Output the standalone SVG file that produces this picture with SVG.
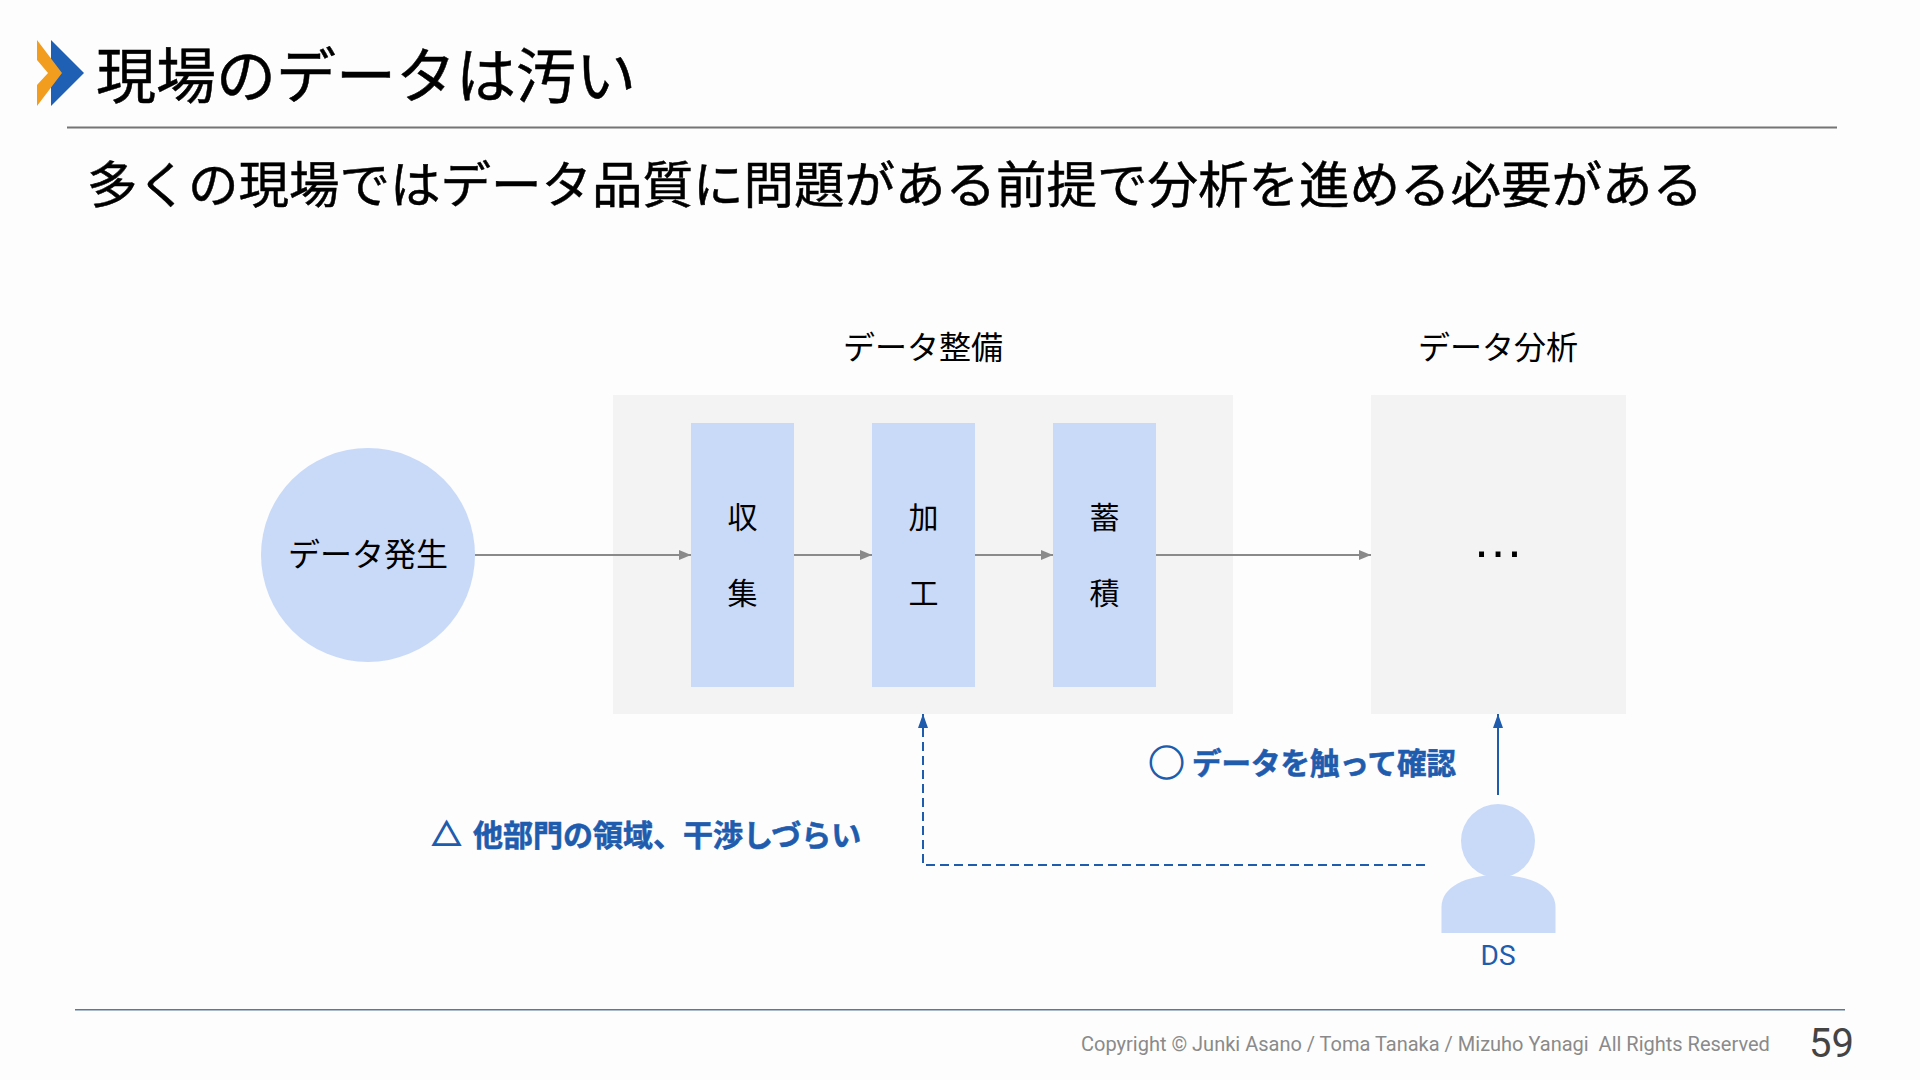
<svg xmlns="http://www.w3.org/2000/svg" width="1920" height="1080" viewBox="0 0 1920 1080">
<style>
text{font-family:"Noto Sans CJK JP","Noto Sans",sans-serif;fill:#000}
.lb{font-size:32px;text-anchor:middle}
.v{font-size:30px;text-anchor:middle}
.blue{font-size:30px;font-weight:700;fill:#1f5cad;stroke:#1f5cad;stroke-width:.6px}
.sym{font-size:35px;font-weight:400;stroke-width:1.2px}
.tri{font-size:29px;font-weight:400;stroke-width:1.7px}
.hd{stroke:#000;stroke-width:.5px}
.bar{fill:#c9daf8}
.bg{fill:#f3f3f3}
.g{stroke:#8a8a8a;stroke-width:2;fill:none;marker-end:url(#ag)}
.b{stroke:#1f5cad;stroke-width:2;fill:none}
</style>
<defs>
<marker id="ag" markerUnits="userSpaceOnUse" markerWidth="12" markerHeight="10" refX="12" refY="5" orient="auto"><path d="M0 0L12 5L0 10Z" fill="#8a8a8a"/></marker>
<marker id="ab" markerUnits="userSpaceOnUse" markerWidth="14" markerHeight="10" refX="14" refY="5" orient="auto"><path d="M0 0L14 5L0 10Z" fill="#1f5cad"/></marker>
</defs>
<rect width="1920" height="1080" fill="#fdfdfd"/>
<g id="logo"><path d="M51 40L84 73L51 106Z" fill="#1f5fb4"/><path d="M37 40L62 73L37 106V85L48 73L37 60Z" fill="#f29d1e"/></g>
<text id="title" class="hd" x="96" y="98" font-size="60">現場のデータは汚い</text>
<rect id="rule-top" x="67" y="126.500" width="1770" height="2" fill="#757575"/>
<text id="subtitle" class="hd" x="87" y="203" font-size="50.500">多くの現場ではデータ品質に問題がある前提で分析を進める必要がある</text>
<text class="lb" x="923" y="359">データ整備</text>
<text class="lb" x="1498" y="359">データ分析</text>
<rect id="area-prep" class="bg" x="613" y="395" width="620" height="319"/>
<rect id="area-analysis" class="bg" x="1371" y="395" width="255" height="319"/>
<g id="source"><circle class="bar" cx="368" cy="555" r="107"/><text class="lb" x="368" y="566">データ発生</text></g>
<g id="collect"><rect class="bar" x="691" y="423" width="103" height="264"/><text class="v" x="742.500" y="528">収</text><text class="v" x="742.500" y="604">集</text></g>
<g id="process"><rect class="bar" x="872" y="423" width="103" height="264"/><text class="v" x="923.500" y="528">加</text><text class="v" x="923.500" y="604">工</text></g>
<g id="store"><rect class="bar" x="1053" y="423" width="103" height="264"/><text class="v" x="1104.500" y="528">蓄</text><text class="v" x="1104.500" y="604">積</text></g>
<g id="dots"><text x="1498" y="557" font-size="52" text-anchor="middle" style="font-family:'Liberation Sans',sans-serif">…</text></g>
<g id="connectors">
<path class="g" d="M475 555H691"/><path class="g" d="M794 555H872"/><path class="g" d="M975 555H1053"/><path class="g" d="M1156 555H1371"/>
<path class="b" stroke-dasharray="9 5" d="M1425 865H923V714" marker-end="url(#ab)"/>
<path class="b" d="M1498 795V714" marker-end="url(#ab)"/>
</g>
<g id="ds"><ellipse class="bar" cx="1498" cy="841" rx="37" ry="37"/><path class="bar" d="M1441.500 933V907C1441.500 887 1466 875 1498 875S1555.500 887 1555.500 907V933Z"/><text x="1498" y="965" font-size="28" text-anchor="middle" style="font-family:Roboto,sans-serif;fill:#1f5cad">DS</text></g>
<text id="note-ok" class="blue" y="774"><tspan class="sym" x="1149" y="776">◯</tspan><tspan x="1192" y="774" style="font-size:29.500px">データを触って確認</tspan></text>
<text id="note-warn" class="blue" y="846"><tspan class="tri" x="432" y="846">△</tspan><tspan x="473" y="846">他部門の領域、干渉しづらい</tspan></text>
<rect id="rule-bottom" x="75" y="1009" width="1770" height="1.500" fill="#5b7a99"/>
<text id="copyright" x="1081" y="1051" font-size="20" xml:space="preserve" style="font-family:Roboto,sans-serif;fill:#8a8a8a;white-space:pre">Copyright © Junki Asano / Toma Tanaka / Mizuho Yanagi  All Rights Reserved</text>
<text id="page" x="1809" y="1057" font-size="40" style="font-family:Roboto,sans-serif;fill:#444">59</text>
</svg>
